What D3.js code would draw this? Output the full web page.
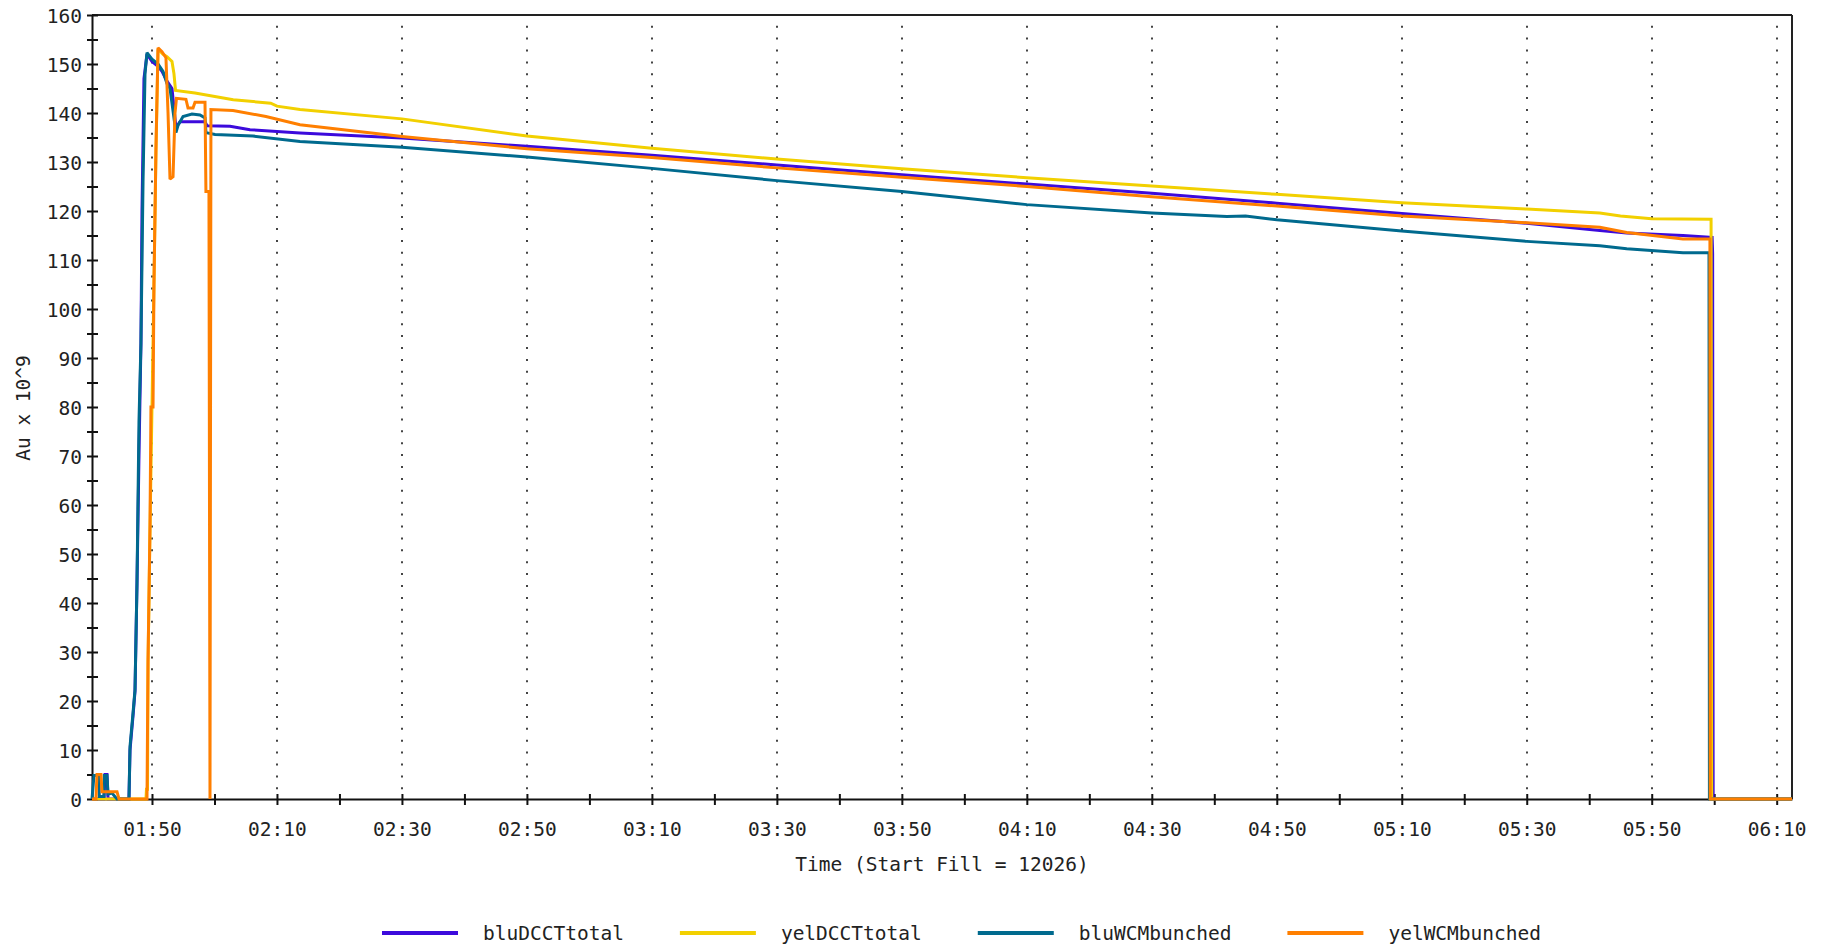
<!DOCTYPE html>
<html><head><meta charset="utf-8">
<script src="https://cdn.jsdelivr.net/npm/d3@7"></script>
<style>
html,body{margin:0;padding:0;background:#fff;}
svg{display:block;}
text{font-family:"DejaVu Sans Mono",monospace;font-size:19.5px;fill:#222;}
</style></head><body>
<svg id="chart" width="1826" height="949"></svg>
<script>
// ---------- DATA ----------
const seriesNames = ["bluDCCTtotal", "yelDCCTtotal", "bluWCMbunched", "yelWCMbunched"];
const seriesColors = ["#3c0adc", "#f2d000", "#006a8e", "#ff7f00"];

const bluDCCTtotal = [
  ["01:40:24",0],["01:42:19",0],["01:42:29",5],["01:42:48",5],["01:42:58",0],["01:46:19",0],
  ["01:46:29",10],["01:46:58",17],["01:47:17",22],["01:47:36",44],["01:47:55",70],["01:48:14",93],
  ["01:48:24",120],["01:48:43",147],["01:49:12",152],["01:50:00",150.5],["01:50:58",149.5],
  ["01:51:36",148.5],["01:52:24",146.5],["01:53:12",145],["01:53:50",137],["01:54:29",138.2],
  ["01:58:29",138.2],["01:58:48",137.4],["02:02:29",137.3],["02:05:41",136.6],["02:13:41",135.9],
  ["02:30:00",134.9],["02:50:00",133.2],["03:10:00",131.4],["03:30:00",129.4],["03:50:00",127.4],
  ["04:10:00",125.5],["04:30:00",123.6],["04:50:00",121.6],["05:10:00",119.5],["05:30:00",117.5],
  ["05:41:42",116.0],["05:46:00",115.5],["05:55:00",115.0],["05:59:40",114.6],["05:59:45",111.3],
  ["05:59:50",0],["06:12:27",0]
];
const yelDCCTtotal = [
  ["01:40:24",0],["01:49:02",0],["01:49:07",2],["01:49:17",2],["01:49:22",28],["01:49:41",55],
  ["01:50:00",80],["01:50:19",105],["01:50:38",132],["01:50:58",153],["01:51:46",152],
  ["01:52:24",151.5],["01:53:12",150.5],["01:53:31",148],["01:53:46",144.6],["01:56:53",144.1],
  ["02:03:00",142.7],["02:09:00",142.0],["02:10:00",141.4],["02:13:41",140.7],["02:30:00",138.8],
  ["02:50:00",135.3],["03:10:00",132.8],["03:30:00",130.6],["03:50:00",128.6],["04:10:00",126.8],
  ["04:30:00",125.1],["04:50:00",123.4],["05:10:00",121.7],["05:30:00",120.4],["05:41:42",119.6],
  ["05:45:00",119.0],["05:50:00",118.4],["05:59:30",118.3],["05:59:36",0],["06:12:27",0]
];
const bluWCMbunched = [
  ["01:40:24",0],["01:40:43",4.8],["01:41:31",4.8],["01:41:34",0.5],["01:42:19",0.5],["01:42:22",4.8],
  ["01:42:48",4.8],["01:42:58",1],["01:43:36",1.2],["01:44:24",0],["01:46:19",0],["01:46:29",10.7],
  ["01:46:58",17.6],["01:47:17",22.3],["01:47:36",44],["01:47:55",77],["01:48:14",93],["01:48:34",126],
  ["01:48:53",148],["01:49:12",152.3],["01:50:00",151],["01:50:58",150],["01:51:46",148.5],
  ["01:52:24",146],["01:52:53",145],["01:53:50",136],["01:54:10",137.5],["01:54:58",139.3],
  ["01:56:24",139.8],["01:57:41",139.6],["01:58:29",139],["01:58:38",136],["02:00:05",135.6],
  ["02:06:10",135.3],["02:13:41",134.2],["02:30:00",133.0],["02:50:00",131.0],["03:10:00",128.7],
  ["03:30:00",126.2],["03:50:00",124.0],["04:10:00",121.3],["04:30:00",119.6],["04:42:00",118.9],
  ["04:45:00",119.0],["04:50:00",118.2],["05:10:00",115.9],["05:30:00",113.8],["05:41:42",112.9],
  ["05:46:00",112.3],["05:55:00",111.5],["05:59:10",111.5],["05:59:14",0],["06:12:27",0]
];
const yelWCMbunched = [
  ["01:40:24",0],["01:41:02",0],["01:41:12",5],["01:41:50",5],["01:42:00",1.5],["01:44:24",1.5],
  ["01:44:43",0],["01:49:12",0],["01:49:22",28],["01:49:41",56],["01:49:50",80],["01:50:10",80],
  ["01:50:19",105],["01:50:38",132.5],["01:50:58",153.3],["01:51:36",152.5],["01:52:14",151.3],
  ["01:52:34",140],["01:52:53",126.5],["01:53:22",127],["01:53:41",140],["01:53:55",143],
  ["01:55:26",142.8],["01:55:46",141],["01:56:34",141],["01:56:53",142.2],["01:58:29",142.2],
  ["01:58:38",124],["01:59:07",124],["01:59:17",0],["01:59:26",140.7],["02:02:58",140.5],
  ["02:08:14",139.3],["02:13:41",137.6],["02:30:00",135.2],["02:50:00",132.7],["03:10:00",130.9],
  ["03:30:00",128.8],["03:50:00",126.9],["04:10:00",125.0],["04:30:00",122.9],["04:50:00",121.0],
  ["05:10:00",119.0],["05:30:00",117.6],["05:41:42",116.7],["05:46:00",115.6],["05:55:00",114.3],
  ["05:59:19",114.3],["05:59:22",0],["06:12:27",0]
];
const seriesData = [bluDCCTtotal, yelDCCTtotal, bluWCMbunched, yelWCMbunched];

const yTickValues = [0,5,10,15,20,25,30,35,40,45,50,55,60,65,70,75,80,85,90,95,100,105,110,115,120,125,130,135,140,145,150,155,160];
const xTickTimes = ["01:50","02:00","02:10","02:20","02:30","02:40","02:50","03:00","03:10","03:20","03:30",
  "03:40","03:50","04:00","04:10","04:20","04:30","04:40","04:50","05:00","05:10","05:20","05:30",
  "05:40","05:50","06:00","06:10"];
const xLabelTimes = ["01:50","02:10","02:30","02:50","03:10","03:30","03:50","04:10","04:30","04:50",
  "05:10","05:30","05:50","06:10"];
const xTitle = "Time (Start Fill = 12026)";
const yTitle = "Au x 10^9";

// ---------- LAYOUT ----------
const L = 92, R = 1792, T = 15, B = 799;
const parseT = d3.timeParse("%H:%M:%S");
const parseHM = d3.timeParse("%H:%M");
const allTimes = seriesData.flat().map(d => parseT(d[0]));
const x = d3.scaleTime().domain(d3.extent(allTimes)).range([L, R]);
const y = d3.scaleLinear().domain([0, 160]).range([B, T]);

const svg = d3.select("#chart");

// dotted grid lines
svg.append("g").selectAll("line").data(xLabelTimes).join("line")
  .attr("x1", d => Math.round(x(parseHM(d)))).attr("x2", d => Math.round(x(parseHM(d))))
  .attr("y1", 25.7).attr("y2", B)
  .attr("stroke", "#444").attr("stroke-width", 2).attr("stroke-dasharray", "2,9.9");

// frame top/right
svg.append("line").attr("x1", L).attr("x2", R).attr("y1", T).attr("y2", T).attr("stroke", "#222").attr("stroke-width", 2);
svg.append("line").attr("x1", R).attr("x2", R).attr("y1", T).attr("y2", B).attr("stroke", "#222").attr("stroke-width", 2);

// y axis
const yAxis = svg.append("g").attr("transform", `translate(${L},0)`)
  .call(d3.axisLeft(y).tickValues(yTickValues).tickFormat(d => d % 10 === 0 ? d : "").tickSizeOuter(0).tickPadding(10));
yAxis.select(".domain").attr("stroke", "#111").attr("stroke-width", 2);
yAxis.selectAll(".tick line").attr("x1", -5).attr("x2", 6).attr("stroke", "#111").attr("stroke-width", 2);
yAxis.selectAll(".tick text").attr("font-size", null).attr("font-family", null).attr("dy", "0.36em").attr("x", -10);

// x axis
const xLabelSet = new Set(xLabelTimes);
const xAxis = svg.append("g").attr("transform", `translate(0,${B})`)
  .call(d3.axisBottom(x).tickValues(xTickTimes.map(parseHM))
    .tickFormat(d => xLabelSet.has(d3.timeFormat("%H:%M")(d)) ? d3.timeFormat("%H:%M")(d) : "")
    .tickSizeOuter(0));
xAxis.select(".domain").attr("stroke", "#111").attr("stroke-width", 2);
xAxis.selectAll(".tick line").attr("y1", -5).attr("y2", 6).attr("stroke", "#111").attr("stroke-width", 2);
xAxis.selectAll(".tick text").attr("font-size", null).attr("font-family", null).attr("y", 37).attr("dy", 0);

// series
const line = d3.line().x(d => x(parseT(d[0]))).y(d => y(d[1]));
seriesData.forEach((s, i) => {
  svg.append("path").datum(s).attr("d", line)
    .attr("fill", "none").attr("stroke", seriesColors[i]).attr("stroke-width", 3)
    .attr("stroke-linejoin", "miter").attr("stroke-miterlimit", 2);
});

// axis titles
svg.append("text").attr("x", 942).attr("y", 871).attr("text-anchor", "middle").text(xTitle);
svg.append("text").attr("transform", "translate(30,408) rotate(-90)").attr("text-anchor", "middle").text(yTitle);

// legend
let lx = 382;
const ly = 933;
seriesNames.forEach((n, i) => {
  svg.append("line").attr("x1", lx).attr("x2", lx + 76).attr("y1", ly).attr("y2", ly)
    .attr("stroke", seriesColors[i]).attr("stroke-width", 4);
  const t = svg.append("text").attr("x", lx + 101).attr("y", ly + 7).text(n);
  lx = lx + 101 + t.node().getComputedTextLength() + 56;
});
</script>
</body></html>
